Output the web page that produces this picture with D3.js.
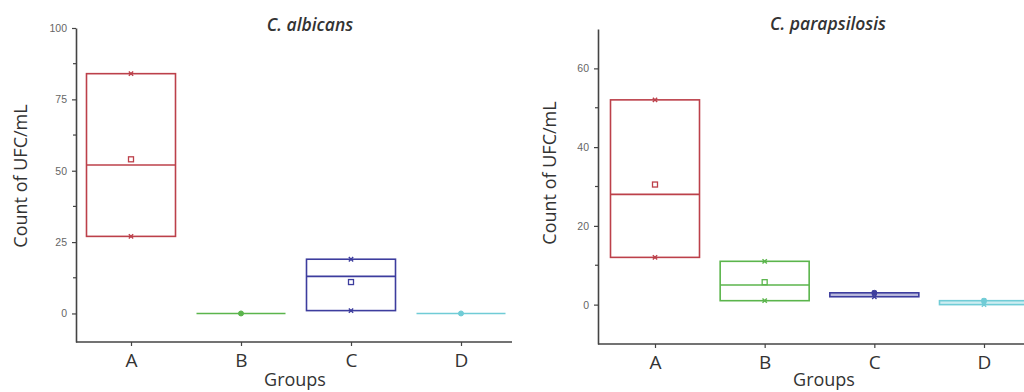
<!DOCTYPE html>
<html>
<head>
<meta charset="utf-8">
<script src="https://cdn.jsdelivr.net/npm/d3@7"></script>
<style>
html,body{margin:0;padding:0;background:#fff;}
svg{display:block;}
</style>
</head>
<body>
<svg id="chart" width="1024" height="392"></svg>
<script>
// ---- data ----
const categories = ["A", "B", "C", "D"];
const colors = ["#bc404a", "#5bb54c", "#3d3d9e", "#70ccd6"];

const albicansLow    = [27, 0, 1, 0];
const albicansHigh   = [84, 0, 19, 0];
const albicansMedian = [52, 0, 13, 0];
const albicansMean   = [54, 0, 11, 0];

const parapsilosisLow    = [12, 1, 2, 0];
const parapsilosisHigh   = [52, 11, 3, 1];
const parapsilosisMedian = [28, 5, 2.5, 0.5];
const parapsilosisMean   = [30.5, 5.7, 3, 1];

const albicansTicks = [0, 25, 50, 75, 100];
const albicansMinor = [12.5, 37.5, 62.5, 87.5];
const parapsilosisTicks = [0, 20, 40, 60];
const parapsilosisMinor = [10, 30, 50];

const svg = d3.select("#chart");
const FONT = "'Open Sans', 'DejaVu Sans', sans-serif";

function panel(cfg) {
  const g = svg.append("g");
  const y = d3.scaleLinear().domain(cfg.yDomain).range([cfg.yBottom, cfg.yTop]);
  const x = d3.scalePoint().domain(categories).range(cfg.xRange);

  // y axis
  const yAxis = d3.axisLeft(y).tickValues(cfg.ticks).tickSize(4).tickPadding(5).tickSizeOuter(0);
  const ya = g.append("g").attr("transform", `translate(${cfg.xAxisLeft},0)`).call(yAxis);
  ya.select(".domain").attr("stroke", "#444").attr("stroke-width", 1.6);
  ya.selectAll(".tick line").attr("stroke", "#444").attr("stroke-width", 1.2);
  ya.selectAll(".tick text").attr("font-family", "'Liberation Sans', Arial, sans-serif")
    .attr("font-size", 10.5).attr("fill", "#666");
  // minor ticks
  g.append("g").selectAll("line").data(cfg.minor).join("line")
    .attr("x1", cfg.xAxisLeft - 3).attr("x2", cfg.xAxisLeft)
    .attr("y1", d => y(d)).attr("y2", d => y(d))
    .attr("stroke", "#444").attr("stroke-width", 1.2);

  // x axis
  const xa = g.append("g").attr("transform", `translate(0,${cfg.yBottom})`)
    .call(d3.axisBottom(x).tickSize(4).tickPadding(8).tickSizeOuter(0));
  xa.select(".domain").attr("d", `M${cfg.xAxisLeft},0H${cfg.xAxisRight}`)
    .attr("stroke", "#444").attr("stroke-width", 1.6);
  xa.selectAll(".tick line").attr("stroke", "#444").attr("stroke-width", 1.2);
  xa.selectAll(".tick text").attr("font-family", FONT).attr("font-size", 19).attr("fill", "#333");

  // boxes
  const bw = 89;
  categories.forEach((c, i) => {
    const cx = x(c);
    const col = colors[i];
    const range = cfg.high[i] - cfg.low[i];
    const top = y(cfg.high[i]), bot = y(cfg.low[i]);
    if (range > 0) {
      g.append("rect")
        .attr("x", cx - bw / 2).attr("y", top)
        .attr("width", bw).attr("height", bot - top)
        .attr("fill", range <= 2 ? col : "none").attr("fill-opacity", 0.35)
        .attr("stroke", col).attr("stroke-width", 1.6);
    }
    // median line
    if (range > 2 || range === 0) {
      g.append("line")
        .attr("x1", cx - bw / 2).attr("x2", cx + bw / 2)
        .attr("y1", y(cfg.median[i])).attr("y2", y(cfg.median[i]))
        .attr("stroke", col).attr("stroke-width", 1.6);
    }
    if (range > 0) {
      // max / min markers
      [cfg.high[i], cfg.low[i]].forEach(v => {
        g.append("path")
          .attr("d", d3.symbol(d3.symbolX, 14)())
          .attr("transform", `translate(${cx},${y(v)})`)
          .attr("stroke", col).attr("stroke-width", 1.4).attr("fill", "none");
      });
    }
    // mean marker
    if (range > 5) {
      g.append("rect")
        .attr("x", cx - 2.5).attr("y", y(cfg.mean[i]) - 2.5)
        .attr("width", 5).attr("height", 5)
        .attr("fill", "#fff").attr("stroke", col).attr("stroke-width", 1.3);
    } else {
      g.append("circle")
        .attr("cx", cx).attr("cy", y(cfg.mean[i]))
        .attr("r", 2.5)
        .attr("fill", col).attr("stroke", col).attr("stroke-width", 1);
    }
  });

  // title
  g.append("text").attr("x", cfg.titleX).attr("y", cfg.titleY)
    .attr("text-anchor", "middle").attr("font-family", FONT)
    .attr("font-style", "italic").attr("font-weight", 600)
    .attr("font-size", 17.5).attr("fill", "#333").text(cfg.title);
  // y label
  g.append("text")
    .attr("transform", `translate(${cfg.yLabelX},${cfg.yLabelY}) rotate(-90)`)
    .attr("text-anchor", "middle").attr("font-family", FONT)
    .attr("font-size", 18).attr("fill", "#333").text("Count of UFC/mL");
  // x label
  g.append("text").attr("x", cfg.xLabelX).attr("y", cfg.xLabelY)
    .attr("text-anchor", "middle").attr("font-family", FONT)
    .attr("font-size", 18).attr("fill", "#333").text("Groups");
}

panel({
  title: "C. albicans",
  yDomain: [-10, 100], yTop: 28, yBottom: 342,
  xRange: [131, 461], xAxisLeft: 76, xAxisRight: 512,
  ticks: albicansTicks, minor: albicansMinor,
  low: albicansLow, high: albicansHigh, median: albicansMedian, mean: albicansMean,
  titleX: 310, titleY: 31, yLabelX: 27, yLabelY: 176, xLabelX: 295, xLabelY: 386
});

panel({
  title: "C. parapsilosis",
  yDomain: [-10, 70], yTop: 29, yBottom: 344,
  xRange: [655, 984], xAxisLeft: 598, xAxisRight: 1024,
  ticks: parapsilosisTicks, minor: parapsilosisMinor,
  low: parapsilosisLow, high: parapsilosisHigh, median: parapsilosisMedian, mean: parapsilosisMean,
  titleX: 828, titleY: 30, yLabelX: 556, yLabelY: 173, xLabelX: 824, xLabelY: 386
});
</script>
</body>
</html>
